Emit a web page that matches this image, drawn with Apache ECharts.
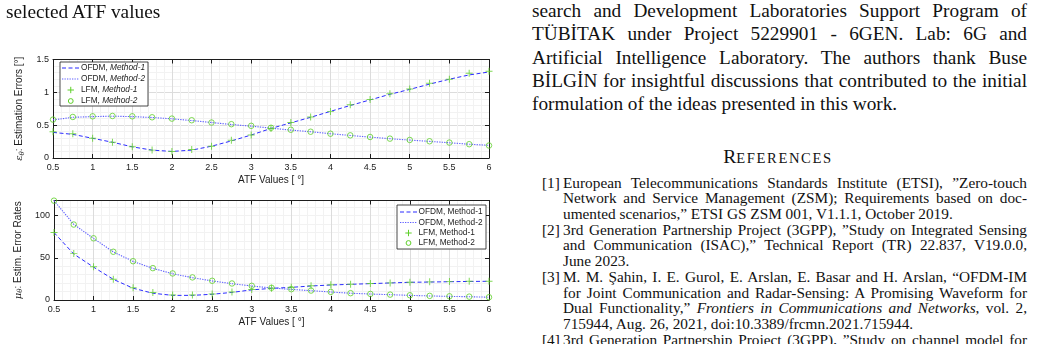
<!DOCTYPE html>
<html>
<head>
<meta charset="utf-8">
<script src="https://cdn.jsdelivr.net/npm/echarts/dist/echarts.min.js"></script>
<style>
  html, body { margin:0; padding:0; background:#fff; }
  body { width:1041px; height:344px; overflow:hidden; position:relative; }
  #chart { position:absolute; left:0; top:0; width:515px; height:344px; }
  .serif { font-family:"Liberation Serif","Times New Roman",serif; color:#111; position:absolute; white-space:nowrap; line-height:1; }
  .body { font-size:19.3px; left:532px; width:495px; }
  .j { text-align:justify; text-align-last:justify; }
  .ref { font-size:15.3px; left:563px; width:464px; }
  .num { font-size:15.3px; left:542px; }
</style>
</head>
<body>
<div id="chart"></div>
<div id="text"></div>
<script>
// ---------------- data ----------------
const atf = [0.5,0.75,1,1.25,1.5,1.75,2,2.25,2.5,2.75,3,3.25,3.5,3.75,4,4.25,4.5,4.75,5,5.25,5.5,5.75,6];
const seriesNames = ['OFDM, Method-1','OFDM, Method-2','LFM, Method-1','LFM, Method-2'];
// top panel: estimation errors [deg]
const ofdm1Err = [0.39,0.36,0.30,0.24,0.17,0.12,0.10,0.12,0.18,0.26,0.35,0.45,0.535,0.62,0.71,0.80,0.885,0.97,1.045,1.125,1.20,1.265,1.31];
const ofdm2Err = [0.58,0.62,0.63,0.637,0.63,0.617,0.597,0.57,0.54,0.51,0.485,0.455,0.425,0.40,0.37,0.343,0.318,0.294,0.273,0.253,0.232,0.21,0.193];
const lfm1Err  = [0.40,0.37,0.30,0.24,0.17,0.12,0.10,0.13,0.18,0.27,0.35,0.45,0.54,0.625,0.71,0.81,0.89,0.98,1.05,1.14,1.20,1.29,1.32];
const lfm2Err  = [0.585,0.625,0.635,0.64,0.635,0.62,0.60,0.575,0.54,0.515,0.49,0.46,0.43,0.40,0.37,0.345,0.32,0.295,0.275,0.255,0.235,0.21,0.19];
// bottom panel: estimation error rates
const ofdm1Rate = [80,54.5,39,24.5,14,8,5.5,5.5,6.8,9,12,13.8,15,16.6,17.8,18.6,19.4,20.2,21,21.3,21.7,22,22.2];
const ofdm2Rate = [117.8,89.7,73,57,45.8,37.5,31.2,26.5,22.6,19.4,16.6,14.3,12.6,11,9.5,8,7.1,6.3,5.5,4.8,4.3,3.9,3.3];
const lfm1Rate  = [80,55,39.5,24.5,14.5,9,6,6,7,9.5,12.5,14,15.2,16.8,18,18.8,19.6,20.3,21,21.5,21.8,22.2,22.3];
const lfm2Rate  = [117.8,89.5,73.2,57.2,46,37.8,31.5,26.8,22.8,19.6,16.8,14.5,12.8,11.2,9.6,8.1,7.2,6.4,5.6,4.9,4.4,4,3.3];
const xTickInterval = 0.5;
const errTickInterval = 0.5;
const rateTickInterval = 50;

// ---------------- styles ----------------
const F = 'Liberation Sans';
const INK = '#1c1c1c';
const BLUE = '#2b2bff';
const BLUE2 = '#5f5fff';
const GREEN = '#5fcf2a';
const PLUS = 'path://M4.3,0H5.7V4.3H10V5.7H5.7V10H4.3V5.7H0V4.3H4.3Z';

const pairs = ys => atf.map((x, i) => [x, ys[i]]);

function mainX(gi, nameGap) {
  return {
    gridIndex: gi, type: 'value', min: 0.5, max: 6, interval: xTickInterval, position: 'bottom',
    name: 'ATF Values [ °]', nameLocation: 'middle', nameGap: nameGap,
    nameTextStyle: { fontSize: 10, color: INK, fontFamily: F },
    axisLine: { show: true, onZero: false, lineStyle: { color: INK, width: 1 } },
    axisTick: { show: true, inside: true, length: 4, lineStyle: { color: INK } },
    axisLabel: { fontSize: 9, color: INK, fontFamily: F, margin: 5 },
    splitLine: { show: true, lineStyle: { color: '#dcdcdc' } },
    minorTick: { show: false, splitNumber: 5 },
    minorSplitLine: { show: true, lineStyle: { color: '#f2f2f2' } }
  };
}
function topX(gi) {
  return {
    gridIndex: gi, type: 'value', min: 0.5, max: 6, interval: xTickInterval, position: 'top',
    axisLine: { show: true, onZero: false, lineStyle: { color: INK, width: 1 } },
    axisTick: { show: true, inside: true, length: 4, lineStyle: { color: INK } },
    axisLabel: { show: false }, splitLine: { show: false }
  };
}
function mainY(gi, max, interval, name, rich, gap, minor) {
  return {
    gridIndex: gi, type: 'value', min: 0, max: max, interval: interval, position: 'left',
    name: name, nameLocation: 'middle', nameRotate: 90, nameGap: gap,
    nameTextStyle: { fontSize: 10, color: INK, fontFamily: F, rich: rich },
    axisLine: { show: true, onZero: false, lineStyle: { color: INK, width: 1 } },
    axisTick: { show: true, inside: true, length: 4, lineStyle: { color: INK } },
    axisLabel: { fontSize: 9, color: INK, fontFamily: F, margin: 4, showMaxLabel: max % interval === 0 },
    splitLine: { show: true, lineStyle: { color: '#dcdcdc' } },
    minorTick: { show: false, splitNumber: 5 },
    minorSplitLine: { show: minor, lineStyle: { color: '#f2f2f2' } }
  };
}
function rightY(gi, max, interval) {
  return {
    gridIndex: gi, type: 'value', min: 0, max: max, interval: interval, position: 'right',
    axisLine: { show: true, onZero: false, lineStyle: { color: INK, width: 1 } },
    axisTick: { show: true, inside: true, length: 4, lineStyle: { color: INK } },
    axisLabel: { show: false }, splitLine: { show: false }
  };
}
const richName = {
  g: { fontStyle: 'italic', fontSize: 10, fontFamily: 'DejaVu Serif', color: INK },
  s: { fontStyle: 'italic', fontSize: 7, fontFamily: 'DejaVu Serif', color: INK, verticalAlign: 'bottom', padding: [5, 0, 0, 0] },
  n: { fontSize: 10, fontFamily: F, color: INK }
};

function seriesSet(xi, yi, a, b, c, d) {
  return [
    { type: 'line', name: seriesNames[0], xAxisIndex: xi, yAxisIndex: yi, data: pairs(a), symbol: 'none',
      lineStyle: { color: BLUE, width: 1, type: [4, 2.5] }, z: 3 },
    { type: 'line', name: seriesNames[1], xAxisIndex: xi, yAxisIndex: yi, data: pairs(b), symbol: 'none',
      lineStyle: { color: BLUE2, width: 1.1, type: [1.3, 1.2] }, z: 3 },
    { type: 'scatter', name: seriesNames[2], xAxisIndex: xi, yAxisIndex: yi, data: pairs(c), symbol: PLUS, symbolSize: 7,
      itemStyle: { color: GREEN }, z: 4 },
    { type: 'scatter', name: seriesNames[3], xAxisIndex: xi, yAxisIndex: yi, data: pairs(d), symbol: 'circle', symbolSize: 5.5,
      itemStyle: { color: 'rgba(0,0,0,0)', borderColor: GREEN, borderWidth: 1 }, z: 4 }
  ];
}

function legend(x0, y0, w, h, ys, lx0, lx1, tx, italic) {
  const cx = (lx0 + lx1) / 2;
  const els = [
    { type: 'rect', shape: { x: x0, y: y0, width: w, height: h }, style: { fill: '#fff', stroke: INK, lineWidth: 0.8 }, z: 10 },
    { type: 'line', shape: { x1: lx0, y1: ys[0], x2: lx1, y2: ys[0] }, style: { stroke: BLUE, lineWidth: 1, lineDash: [4, 2.5] }, z: 11 },
    { type: 'line', shape: { x1: lx0, y1: ys[1], x2: lx1, y2: ys[1] }, style: { stroke: BLUE2, lineWidth: 1.1, lineDash: [1.3, 1.2] }, z: 11 },
    { type: 'line', shape: { x1: cx - 3.2, y1: ys[2], x2: cx + 3.2, y2: ys[2] }, style: { stroke: GREEN, lineWidth: 1 }, z: 11 },
    { type: 'line', shape: { x1: cx, y1: ys[2] - 3.2, x2: cx, y2: ys[2] + 3.2 }, style: { stroke: GREEN, lineWidth: 1 }, z: 11 },
    { type: 'circle', shape: { cx: cx, cy: ys[3], r: 2.4 }, style: { fill: 'none', stroke: GREEN, lineWidth: 1 }, z: 11 }
  ];
  seriesNames.forEach((n, i) => {
    const parts = n.split(', ');
    const txt = italic ? parts[0] + ', {i|' + parts[1] + '}' : n;
    els.push({ type: 'text', x: tx, y: ys[i], z: 11,
      style: { text: txt, fontSize: 8.3, fontFamily: F, fill: INK, verticalAlign: 'middle', align: 'left',
        rich: { i: { fontStyle: 'italic', fontSize: 8.3, fontFamily: F, fill: INK } } } });
  });
  return els;
}

const chart = echarts.init(document.getElementById('chart'), null, { renderer: 'canvas' });
chart.setOption({
  animation: false,
  grid: [
    { left: 53, top: 59.5, width: 436, height: 98.5, show: false },
    { left: 54, top: 200.5, width: 435, height: 99.5, show: false }
  ],
  xAxis: [ mainX(0, 17.5), topX(0), mainX(1, 17), topX(1) ],
  yAxis: [
    mainY(0, 1.5, errTickInterval, '{g|ε}{s|θ}{n|: Estimation Errors [°]}', richName, 26, true),
    rightY(0, 1.5, errTickInterval),
    mainY(1, 118, rateTickInterval, '{g|μ}{s|θ}{n|: Estim. Error Rates}', richName, 25, false),
    rightY(1, 118, rateTickInterval),
    { gridIndex: 1, type: 'value', min: 0, max: 118, interval: 10, position: 'left', z: 0,
      axisLine: { show: false }, axisTick: { show: false }, axisLabel: { show: false },
      splitLine: { show: true, lineStyle: { color: '#f2f2f2' } } }
  ],
  series: [].concat(
    seriesSet(0, 0, ofdm1Err, ofdm2Err, lfm1Err, lfm2Err),
    seriesSet(2, 2, ofdm1Rate, ofdm2Rate, lfm1Rate, lfm2Rate)
  ),
  graphic: [].concat(
    legend(60, 62, 88, 44, [68, 79, 90, 101], 62, 79.5, 81, true),
    legend(397, 205, 89, 44, [212, 222.5, 233, 243], 400, 417, 418.5, false)
  )
});

// ---------------- surrounding page text ----------------
const caption = 'selected ATF values';
const bodyLines = [
  'search and Development Laboratories Support Program of',
  'TÜBİTAK under Project 5229901 - 6GEN. Lab: 6G and',
  'Artificial Intelligence Laboratory. The authors thank Buse',
  'BİLGİN for insightful discussions that contributed to the initial',
  'formulation of the ideas presented in this work.'
];
const refs = [
  ['[1]', ['European Telecommunications Standards Institute (ETSI), ”Zero-touch',
           'Network and Service Management (ZSM); Requirements based on doc-',
           'umented scenarios,” ETSI GS ZSM 001, V1.1.1, October 2019.']],
  ['[2]', ['3rd Generation Partnership Project (3GPP), ”Study on Integrated Sensing',
           'and Communication (ISAC),” Technical Report (TR) 22.837, V19.0.0,',
           'June 2023.']],
  ['[3]', ['M. M. Şahin, I. E. Gurol, E. Arslan, E. Basar and H. Arslan, “OFDM-IM',
           'for Joint Communication and Radar-Sensing: A Promising Waveform for',
           'Dual Functionality,” <i>Frontiers in Communications and Networks</i>, vol. 2,',
           '715944, Aug. 26, 2021, doi:10.3389/frcmn.2021.715944.']],
  ['[4]', ['3rd Generation Partnership Project (3GPP), ”Study on channel model for']]
];
const T = document.getElementById('text');
function add(cls, html, baseline, fs, extra) {
  const d = document.createElement('div');
  d.className = 'serif ' + cls;
  d.innerHTML = html;
  d.style.top = (baseline - 0.8375 * fs) + 'px';
  if (extra) Object.assign(d.style, extra);
  T.appendChild(d);
}
add('', caption, 18.3, 19.3, { left: '6px', fontSize: '19.3px' });
bodyLines.forEach((l, i) => add('body' + (i < bodyLines.length - 1 ? ' j' : ''), l, 17.3 + i * 23.3, 19.3));
add('', '<span style="font-size:19.5px">R</span><span style="font-size:14.6px;letter-spacing:1.6px">EFERENCES</span>', 163.3, 19.5,
    { left: '723px', width: '110px', textAlign: 'center' });
let row = 0;
const refBase = 187.5, refStep = 15.7;
refs.forEach(([num, lines]) => {
  add('num', num, refBase + row * refStep, 15.3);
  lines.forEach((l, k) => {
    const last = (k === lines.length - 1) && num !== '[4]';
    add('ref' + (last ? '' : ' j'), l, refBase + row * refStep, 15.3);
    row++;
  });
});
</script>
</body>
</html>
